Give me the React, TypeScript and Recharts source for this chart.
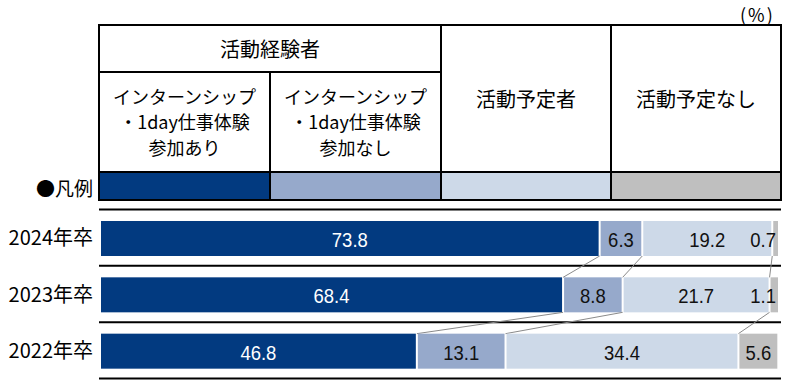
import React from "react";
import { BarChart, Bar, XAxis, YAxis, CartesianGrid, LabelList } from "recharts";

// values in %
const years = ["2024年卒", "2023年卒", "2022年卒"];
const withIntern = [73.8, 68.4, 46.8];
const withoutIntern = [6.3, 8.8, 13.1];
const planned = [19.2, 21.7, 34.4];
const noPlan = [0.7, 1.1, 5.6];

const seriesKeys = ["withIntern", "withoutIntern", "planned", "noPlan"];
const seriesValues = [withIntern, withoutIntern, planned, noPlan];
const seriesColors = ["#023a80", "#96a9cb", "#cdd9e8", "#bfbfbf"];

const data = years.map((year, i) => ({
  year,
  withIntern: withIntern[i],
  withoutIntern: withoutIntern[i],
  planned: planned[i],
  noPlan: noPlan[i],
}));

const W = 800;
const H = 385;
const PLOT_TOP = 210;
const PLOT_BOTTOM = 379;
const PLOT_LEFT = 99;
const PLOT_RIGHT = 781;
const AXIS_W = 90;
const ROW_STEP = (PLOT_BOTTOM - PLOT_TOP) / years.length;

const JP = '"Noto Sans CJK JP", "Noto Sans", sans-serif';
const NUM = '"Liberation Sans", Arial, sans-serif';

const sumTo = (k: number, row: number) =>
  seriesValues.slice(0, k).reduce((a, s) => a + s[row], 0);

const makeShape = (k: number) => (props: any) => {
  const { x, y, width, height, index } = props;
  const value = seriesValues[k][index];
  const last = k === seriesKeys.length - 1;
  const gap = last ? 0 : 2;
  let connector = null;
  if (!last && index < years.length - 1 && value > 0) {
    const ppu = width / value;
    const x0 = x - sumTo(k, index) * ppu;
    const nextEnd = x0 + sumTo(k + 1, index + 1) * ppu;
    connector = (
      <line
        x1={x + width - gap / 2}
        y1={y + height}
        x2={nextEnd - gap / 2}
        y2={y + ROW_STEP}
        stroke="#8a8a8a"
        strokeWidth={1}
      />
    );
  }
  return (
    <g>
      <rect x={x} y={y} width={Math.max(width - gap, 0)} height={height} fill={seriesColors[k]} />
      {connector}
    </g>
  );
};

const makeLabel = (k: number) => (props: any) => {
  const { x, y, width, height, value } = props;
  const small = value < 2;
  const gap = k === seriesKeys.length - 1 ? 0 : 2;
  const tx = small ? x + width - 2 : x + (width - gap) / 2;
  const ty = y + height / 2 + 1;
  return (
    <text
      transform={`translate(${tx} ${ty}) scale(0.88 1)`}
      x={0}
      y={0}
      textAnchor={small ? "end" : "middle"}
      dominantBaseline="central"
      fill={k === 0 ? "#ffffff" : "#111111"}
      fontFamily={NUM}
      fontSize={21}
    >
      {Number(value).toFixed(1)}
    </text>
  );
};

const cell = (
  x1: number,
  y1: number,
  x2: number,
  y2: number,
  extra: React.CSSProperties = {}
): React.CSSProperties => ({
  position: "absolute",
  left: x1 - 1,
  top: y1 - 1,
  width: x2 - x1 + 2,
  height: y2 - y1 + 2,
  border: "2px solid #000",
  boxSizing: "border-box",
  display: "flex",
  flexDirection: "column",
  alignItems: "center",
  justifyContent: "center",
  textAlign: "center",
  fontFamily: JP,
  color: "#000",
  ...extra,
});

const colX = [99, 270, 441, 611, 781];
const rowY = [25, 72, 172, 200];

export default function App() {
  const subText = (lines: string[]) =>
    lines.map((t) => (
      <div key={t} style={{ fontSize: 18, lineHeight: "25.5px", whiteSpace: "nowrap" }}>
        {t}
      </div>
    ));

  return (
    <div style={{ position: "absolute", left: 0, top: 0, width: W, height: H, background: "#fff" }}>
      <BarChart
        width={W}
        height={H}
        data={data}
        layout="vertical"
        barSize={35}
        margin={{ top: PLOT_TOP, bottom: H - PLOT_BOTTOM, left: PLOT_LEFT - AXIS_W, right: W - PLOT_RIGHT }}
      >
        <CartesianGrid
          vertical={false}
          stroke="#000"
          strokeWidth={2}
          horizontalCoordinatesGenerator={(p: any) =>
            [0, 1, 2, 3].map((i) => p.offset.top + (i * p.offset.height) / years.length - 0.5)
          }
        />
        <XAxis type="number" domain={[0, 100]} hide padding={{ left: 2, right: 3 }} />
        <YAxis
          type="category"
          dataKey="year"
          width={AXIS_W}
          axisLine={false}
          tickLine={false}
          tickSize={0}
          tickMargin={6}
          tick={{ fontFamily: JP, fontSize: 20, fill: "#000" }}
        />
        {seriesKeys.map((key, k) => (
          <Bar key={key} dataKey={key} stackId="a" isAnimationActive={false} shape={makeShape(k)}>
            <LabelList dataKey={key} content={makeLabel(k)} />
          </Bar>
        ))}
      </BarChart>

      <div
        style={{
          position: "absolute",
          left: 740,
          top: 1,
          fontFamily: JP,
          fontSize: 18,
          letterSpacing: 2,
          color: "#000",
        }}
      >
        (%)
      </div>

      <div style={cell(colX[0], rowY[0], colX[2], rowY[1], { fontSize: 20 })}>活動経験者</div>
      <div style={cell(colX[0], rowY[1], colX[1], rowY[2])}>
        {subText(["インターンシップ", "・1day仕事体験", "参加あり"])}
      </div>
      <div style={cell(colX[1], rowY[1], colX[2], rowY[2])}>
        {subText(["インターンシップ", "・1day仕事体験", "参加なし"])}
      </div>
      <div style={cell(colX[2], rowY[0], colX[3], rowY[2], { fontSize: 20 })}>活動予定者</div>
      <div style={cell(colX[3], rowY[0], colX[4], rowY[2], { fontSize: 20 })}>活動予定なし</div>
      {seriesColors.map((c, k) => (
        <div key={c} style={cell(colX[k], rowY[2], colX[k + 1], rowY[3], { background: c })} />
      ))}
      <div
        style={{
          position: "absolute",
          left: 0,
          width: 93,
          top: rowY[2],
          height: rowY[3] - rowY[2] + 2,
          display: "flex",
          alignItems: "center",
          justifyContent: "flex-end",
          fontFamily: JP,
          fontSize: 19,
          color: "#000",
        }}
      >
        ●凡例
      </div>
    </div>
  );
}
